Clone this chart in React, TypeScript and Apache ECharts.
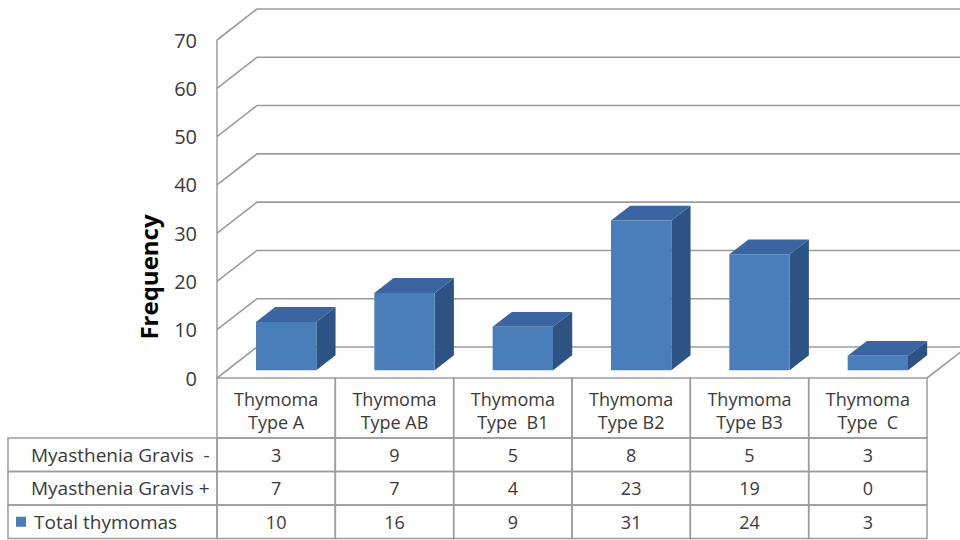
import React, { useEffect, useRef } from 'react';
import * as echarts from 'echarts';

const categories = ['Thymoma\nType A', 'Thymoma\nType AB', 'Thymoma\nType  B1', 'Thymoma\nType B2', 'Thymoma\nType B3', 'Thymoma\nType  C'];
const mgNegative = [3, 9, 5, 8, 5, 3];
const mgPositive = [7, 7, 4, 23, 19, 0];
const totalThymomas = [10, 16, 9, 31, 24, 3];
const rowLabels = ['Myasthenia Gravis  -', 'Myasthenia Gravis +', 'Total thymomas'];
const yTicks = [0, 10, 20, 30, 40, 50, 60, 70];

// layout
const GRID_LEFT = 217;
const GRID_TOP = 40;
const GRID_W = 710;
const GRID_H = 338;
const DX = 40; // floor depth
const DY = -31;
const HEAD_H = 60;
const ROW_H = 33.5;
const TABLE_LEFT = 8;

const FONT = 'Open Sans';
const TEXT = '#3a3a3a';
const LINE = '#9c9c9c';
const BLUE = '#4a7ebb';
const BLUE_TOP = '#3b65a0';
const BLUE_SIDE = '#2d5284';

export default function App() {
    const chartRef = useRef<HTMLDivElement>(null);

    useEffect(() => {
        if (!chartRef.current) return;
        const chart = echarts.init(chartRef.current, null, { renderer: 'svg' });

        const tableRows = [mgNegative, mgPositive, totalThymomas];
        const tableTop = GRID_TOP + GRID_H;

        // row labels on the left side of the data table
        const labelGraphics: any[] = [];
        rowLabels.forEach((label, r) => {
            const y = tableTop + HEAD_H + r * ROW_H;
            labelGraphics.push({
                type: 'rect',
                shape: { x: TABLE_LEFT, y, width: GRID_LEFT - TABLE_LEFT, height: ROW_H },
                style: { fill: 'none', stroke: LINE, lineWidth: 1.5 },
            });
            const isLegend = r === 2;
            if (isLegend) {
                labelGraphics.push({
                    type: 'rect',
                    shape: { x: 16, y: y + ROW_H / 2 - 5, width: 10, height: 10 },
                    style: { fill: BLUE },
                });
            }
            labelGraphics.push({
                type: 'text',
                x: isLegend ? 34 : 31,
                y: y + ROW_H / 2,
                style: { text: label, fill: TEXT, font: `19px "${FONT}"`, align: 'left', verticalAlign: 'middle' },
            });
        });

        const option = {
            animation: false,
            grid: { left: GRID_LEFT, top: GRID_TOP, width: GRID_W, height: GRID_H },
            xAxis: {
                type: 'category',
                data: categories,
                axisLine: { show: false },
                axisTick: { show: false },
                axisLabel: { show: false },
            },
            yAxis: {
                type: 'value',
                min: 0,
                max: 70,
                interval: 10,
                axisLine: { show: true, lineStyle: { color: LINE, width: 1.5 } },
                axisTick: { show: false },
                splitLine: { show: false },
                axisLabel: { fontSize: 20, color: TEXT, fontFamily: FONT, margin: 20 },
            },
            graphic: [
                {
                    type: 'text',
                    x: 148,
                    y: 277,
                    rotation: Math.PI / 2,
                    style: {
                        text: 'Frequency',
                        fill: '#000',
                        font: `bold 24px "${FONT}"`,
                        align: 'center',
                        verticalAlign: 'middle',
                    },
                },
                ...labelGraphics,
            ],
            series: [
                {
                    // walls + gridlines
                    type: 'custom',
                    silent: true,
                    data: yTicks.map((v) => [0, v]),
                    renderItem: (params: any, api: any) => {
                        const cs = params.coordSys;
                        const y = api.coord([0, api.value(1)])[1];
                        const x0 = cs.x;
                        const xr = cs.x + cs.width;
                        const children: any[] = [
                            {
                                type: 'polyline',
                                shape: { points: [[x0, y], [x0 + DX, y + DY], [xr + DX, y + DY]] },
                                style: { stroke: LINE, lineWidth: 1.6, fill: 'none' },
                            },
                        ];
                        if (api.value(1) === 0) {
                            children.push({
                                type: 'line',
                                shape: { x1: xr, y1: y, x2: xr + DX, y2: y + DY },
                                style: { stroke: LINE, lineWidth: 1.6 },
                            });
                        }
                        return { type: 'group', children };
                    },
                    z: 1,
                },
                {
                    // 3D bars
                    type: 'custom',
                    name: 'Total thymomas',
                    data: totalThymomas.map((v, i) => [i, v]),
                    renderItem: (params: any, api: any) => {
                        const i = api.value(0);
                        const v = api.value(1);
                        const top = api.coord([i, v]);
                        const base = api.coord([i, 0]);
                        const bw = api.size([1, 0])[0];
                        const w = bw * 0.51;
                        const f = 0.25;
                        const b = 0.73;
                        const x1 = top[0] - w / 2 + DX * f;
                        const x2 = top[0] + w / 2 + DX * f;
                        const yT = top[1] + DY * f;
                        const yB = base[1] + DY * f;
                        const ddx = DX * (b - f);
                        const ddy = DY * (b - f);
                        return {
                            type: 'group',
                            children: [
                                {
                                    type: 'polygon',
                                    shape: { points: [[x2, yT], [x2 + ddx, yT + ddy], [x2 + ddx, yB + ddy], [x2, yB]] },
                                    style: { fill: BLUE_SIDE },
                                },
                                {
                                    type: 'polygon',
                                    shape: { points: [[x1, yT], [x2, yT], [x2 + ddx, yT + ddy], [x1 + ddx, yT + ddy]] },
                                    style: { fill: BLUE_TOP },
                                },
                                {
                                    type: 'rect',
                                    shape: { x: x1, y: yT, width: w, height: yB - yT },
                                    style: { fill: BLUE },
                                },
                            ],
                        };
                    },
                    z: 3,
                },
                {
                    // data table
                    type: 'custom',
                    silent: true,
                    data: categories.map((c, i) => [i, 0]),
                    renderItem: (params: any, api: any) => {
                        const i = api.value(0);
                        const cx = api.coord([i, 0])[0];
                        const bw = api.size([1, 0])[0];
                        const x = cx - bw / 2;
                        const children: any[] = [
                            {
                                type: 'rect',
                                shape: { x, y: tableTop, width: bw, height: HEAD_H },
                                style: { fill: 'none', stroke: LINE, lineWidth: 1.5 },
                            },
                            {
                                type: 'text',
                                x: cx,
                                y: tableTop + HEAD_H / 2 + 2,
                                style: {
                                    text: categories[i],
                                    fill: TEXT,
                                    font: `18px "${FONT}"`,
                                    lineHeight: 23,
                                    align: 'center',
                                    verticalAlign: 'middle',
                                },
                            },
                        ];
                        tableRows.forEach((row, r) => {
                            const y = tableTop + HEAD_H + r * ROW_H;
                            children.push({
                                type: 'rect',
                                shape: { x, y, width: bw, height: ROW_H },
                                style: { fill: 'none', stroke: LINE, lineWidth: 1.5 },
                            });
                            children.push({
                                type: 'text',
                                x: cx,
                                y: y + ROW_H / 2,
                                style: {
                                    text: String(row[i]),
                                    fill: TEXT,
                                    font: `18px "${FONT}"`,
                                    align: 'center',
                                    verticalAlign: 'middle',
                                },
                            });
                        });
                        return { type: 'group', children };
                    },
                    z: 2,
                },
            ],
        };
        chart.setOption(option);

        return () => {
            chart.dispose();
        };
    }, []);

    return (
        <div
            ref={chartRef}
            style={{ position: 'absolute', left: 0, top: 0, width: '960px', height: '540px', background: '#fff' }}
        ></div>
    );
}
